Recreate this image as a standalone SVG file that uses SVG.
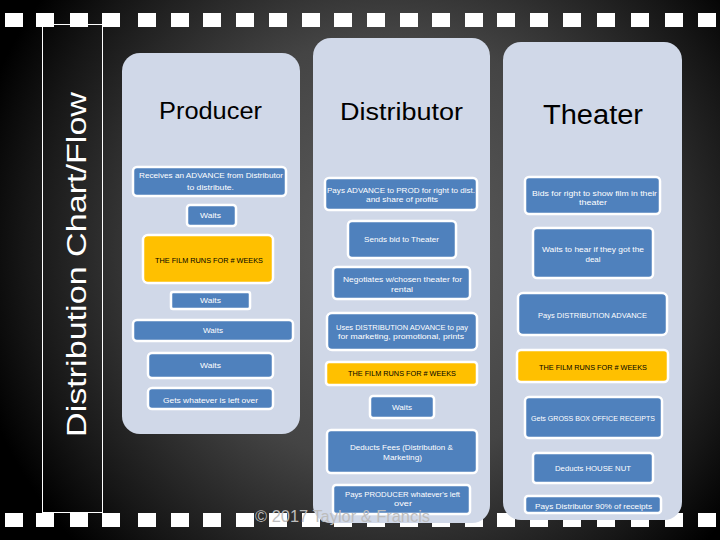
<svg xmlns="http://www.w3.org/2000/svg" width="720" height="540" viewBox="0 0 720 540">
<defs>
<radialGradient id="bg" cx="390" cy="250" r="430" gradientUnits="userSpaceOnUse">
<stop offset="0" stop-color="#5e5e5e"/>
<stop offset="0.5" stop-color="#444"/>
<stop offset="0.85" stop-color="#161616"/>
<stop offset="1" stop-color="#000"/>
</radialGradient>
</defs>
<style>
.hole{fill:#fff}
.col{fill:#D0D8E8}
.box{fill:#4F81BD;stroke:#fff;stroke-width:2.5}
.yel{fill:#FFC000;stroke:#fff;stroke-width:2.5}
.t{font-family:"Liberation Sans",Arial,sans-serif;font-size:7.5px;fill:#fff;text-anchor:middle}
.tk{font-family:"Liberation Sans",Arial,sans-serif;font-size:7.5px;fill:#000;text-anchor:middle}
.title{font-family:"Liberation Sans",Arial,sans-serif;fill:#000;text-anchor:middle}
</style>
<rect x="0" y="0" width="720" height="540" fill="url(#bg)"/>
<g id="holes">
<rect class="hole" x="5" y="13" width="18" height="14"/><rect class="hole" x="36" y="13" width="18" height="14"/><rect class="hole" x="70" y="13" width="18" height="14"/><rect class="hole" x="102" y="13" width="18" height="14"/><rect class="hole" x="138" y="13" width="18" height="14"/><rect class="hole" x="171" y="13" width="18" height="14"/><rect class="hole" x="203" y="13" width="18" height="14"/><rect class="hole" x="236" y="13" width="18" height="14"/><rect class="hole" x="269" y="13" width="18" height="14"/><rect class="hole" x="302" y="13" width="18" height="14"/><rect class="hole" x="334" y="13" width="18" height="14"/><rect class="hole" x="367" y="13" width="18" height="14"/><rect class="hole" x="400" y="13" width="18" height="14"/><rect class="hole" x="432" y="13" width="18" height="14"/><rect class="hole" x="465" y="13" width="18" height="14"/><rect class="hole" x="497" y="13" width="18" height="14"/><rect class="hole" x="530" y="13" width="18" height="14"/><rect class="hole" x="563" y="13" width="18" height="14"/><rect class="hole" x="597" y="13" width="18" height="14"/><rect class="hole" x="631" y="13" width="18" height="14"/><rect class="hole" x="665" y="13" width="18" height="14"/><rect class="hole" x="698" y="13" width="18" height="14"/>
<rect class="hole" x="5" y="513" width="18" height="14"/><rect class="hole" x="36" y="513" width="18" height="14"/><rect class="hole" x="70" y="513" width="18" height="14"/><rect class="hole" x="102" y="513" width="18" height="14"/><rect class="hole" x="138" y="513" width="18" height="14"/><rect class="hole" x="171" y="513" width="18" height="14"/><rect class="hole" x="203" y="513" width="18" height="14"/><rect class="hole" x="236" y="513" width="18" height="14"/><rect class="hole" x="269" y="513" width="18" height="14"/><rect class="hole" x="302" y="513" width="18" height="14"/><rect class="hole" x="334" y="513" width="18" height="14"/><rect class="hole" x="367" y="513" width="18" height="14"/><rect class="hole" x="400" y="513" width="18" height="14"/><rect class="hole" x="432" y="513" width="18" height="14"/><rect class="hole" x="465" y="513" width="18" height="14"/><rect class="hole" x="497" y="513" width="18" height="14"/><rect class="hole" x="530" y="513" width="18" height="14"/><rect class="hole" x="563" y="513" width="18" height="14"/><rect class="hole" x="597" y="513" width="18" height="14"/><rect class="hole" x="631" y="513" width="18" height="14"/><rect class="hole" x="665" y="513" width="18" height="14"/><rect class="hole" x="698" y="513" width="18" height="14"/>
</g>
<g id="sidebar">
<rect x="42.5" y="24.5" width="60" height="488" fill="none" stroke="#fff" stroke-width="1"/>
<text transform="translate(86,264.5) rotate(-90)" font-family="Liberation Sans, Arial, sans-serif" font-size="27" fill="#fff" text-anchor="middle" textLength="345" lengthAdjust="spacingAndGlyphs">Distribution Chart/Flow</text>
</g>
<g id="producer">
<rect class="col" x="122" y="53" width="178" height="381" rx="18"/>
<text class="title" x="210.5" y="119" font-size="23" textLength="103" lengthAdjust="spacingAndGlyphs">Producer</text>
</g>
<g id="distributor">
<rect class="col" x="313" y="38" width="177" height="485" rx="18"/>
<text class="title" x="401.5" y="120" font-size="23" textLength="123" lengthAdjust="spacingAndGlyphs">Distributor</text>
</g>
<g id="theater">
<rect class="col" x="503" y="42" width="179" height="478" rx="18"/>
<text class="title" x="593" y="124" font-size="27" textLength="100" lengthAdjust="spacingAndGlyphs">Theater</text>
</g>
<g id="p1"><rect class="box" x="133" y="167" width="153" height="29" rx="4"/><text class="t" x="211" y="178" textLength="144" lengthAdjust="spacingAndGlyphs">Receives an ADVANCE from Distributor</text><text class="t" x="210.5" y="190" textLength="47" lengthAdjust="spacingAndGlyphs">to distribute.</text></g>
<g id="p2"><rect class="box" x="187" y="205" width="49" height="21" rx="3"/><text class="t" x="210.5" y="218" textLength="21" lengthAdjust="spacingAndGlyphs">Waits</text></g>
<g id="p3"><rect class="yel" x="143" y="235" width="130" height="48" rx="5"/><text class="tk" x="209" y="263" textLength="108" lengthAdjust="spacingAndGlyphs">THE FILM RUNS FOR # WEEKS</text></g>
<g id="p4"><rect class="box" x="171" y="292" width="79" height="17" rx="2"/><text class="t" x="210.5" y="303" textLength="21" lengthAdjust="spacingAndGlyphs">Waits</text></g>
<g id="p5"><rect class="box" x="133" y="320" width="160" height="21" rx="4"/><text class="t" x="213" y="333" textLength="20" lengthAdjust="spacingAndGlyphs">Waits</text></g>
<g id="p6"><rect class="box" x="148" y="353" width="125" height="25" rx="4"/><text class="t" x="210.5" y="368" textLength="21" lengthAdjust="spacingAndGlyphs">Waits</text></g>
<g id="p7"><rect class="box" x="148" y="388" width="125" height="21" rx="4"/><text class="t" x="210.5" y="403" textLength="95" lengthAdjust="spacingAndGlyphs">Gets whatever is left over</text></g>
<g id="d1"><rect class="box" x="325" y="178" width="152" height="32" rx="4"/><text class="t" x="401" y="193" textLength="148" lengthAdjust="spacingAndGlyphs">Pays ADVANCE to PROD for right to dist.</text><text class="t" x="402" y="202" textLength="72" lengthAdjust="spacingAndGlyphs">and share of profits</text></g>
<g id="d2"><rect class="box" x="348" y="221" width="108" height="37" rx="4"/><text class="t" x="401.5" y="242" textLength="75" lengthAdjust="spacingAndGlyphs">Sends bid to Theater</text></g>
<g id="d3"><rect class="box" x="333" y="267" width="137" height="32" rx="4"/><text class="t" x="402.5" y="282" textLength="119" lengthAdjust="spacingAndGlyphs">Negotiates w/chosen theater for</text><text class="t" x="402" y="292" textLength="22" lengthAdjust="spacingAndGlyphs">rental</text></g>
<g id="d4"><rect class="box" x="327" y="313" width="150" height="37" rx="5"/><text class="t" x="402" y="330" textLength="132" lengthAdjust="spacingAndGlyphs">Uses DISTRIBUTION ADVANCE to pay</text><text class="t" x="401" y="339" textLength="126" lengthAdjust="spacingAndGlyphs">for marketing, promotional, prints</text></g>
<g id="d5"><rect class="yel" x="326" y="362" width="151" height="23" rx="3"/><text class="tk" x="402" y="376" textLength="108" lengthAdjust="spacingAndGlyphs">THE FILM RUNS FOR # WEEKS</text></g>
<g id="d6"><rect class="box" x="370" y="396" width="64" height="22" rx="3"/><text class="t" x="402" y="410" textLength="20" lengthAdjust="spacingAndGlyphs">Waits</text></g>
<g id="d7"><rect class="box" x="327" y="430" width="150" height="43" rx="4"/><text class="t" x="401.5" y="450" textLength="103" lengthAdjust="spacingAndGlyphs">Deducts Fees (Distribution &amp;</text><text class="t" x="402.5" y="460" textLength="39" lengthAdjust="spacingAndGlyphs">Marketing)</text></g>
<g id="d8"><rect class="box" x="333" y="485" width="137" height="29" rx="3"/><text class="t" x="402.5" y="497" textLength="115" lengthAdjust="spacingAndGlyphs">Pays PRODUCER whatever's left</text><text class="t" x="403" y="506" textLength="18" lengthAdjust="spacingAndGlyphs">over</text></g>
<g id="t1"><rect class="box" x="525" y="177" width="135" height="37" rx="4"/><text class="t" x="594.5" y="196" textLength="125" lengthAdjust="spacingAndGlyphs">Bids for right to show film in their</text><text class="t" x="593" y="205" textLength="28" lengthAdjust="spacingAndGlyphs">theater</text></g>
<g id="t2"><rect class="box" x="533" y="228" width="120" height="50" rx="4"/><text class="t" x="593" y="252" textLength="102" lengthAdjust="spacingAndGlyphs">Waits to hear if they got the</text><text class="t" x="593" y="262" textLength="15" lengthAdjust="spacingAndGlyphs">deal</text></g>
<g id="t3"><rect class="box" x="518" y="293" width="149" height="42" rx="5"/><text class="t" x="592.5" y="318" textLength="109" lengthAdjust="spacingAndGlyphs">Pays DISTRIBUTION ADVANCE</text></g>
<g id="t4"><rect class="yel" x="517" y="350" width="151" height="32" rx="4"/><text class="tk" x="593" y="370" textLength="108" lengthAdjust="spacingAndGlyphs">THE FILM RUNS FOR # WEEKS</text></g>
<g id="t5"><rect class="box" x="525" y="397" width="137" height="41" rx="4"/><text class="t" x="593" y="421" textLength="124" lengthAdjust="spacingAndGlyphs">Gets GROSS BOX OFFICE RECEIPTS</text></g>
<g id="t6"><rect class="box" x="533" y="453" width="120" height="30" rx="3"/><text class="t" x="593" y="471" textLength="76" lengthAdjust="spacingAndGlyphs">Deducts HOUSE NUT</text></g>
<g id="t7"><rect class="box" x="525" y="496" width="136" height="17" rx="3"/><text class="t" x="593.5" y="509" textLength="117" lengthAdjust="spacingAndGlyphs">Pays Distributor 90% of receipts</text></g>
<text x="342.5" y="522" font-family="Liberation Sans, Arial, sans-serif" font-size="16" fill="#bdbdbd" text-anchor="middle" textLength="175" lengthAdjust="spacingAndGlyphs">© 2017 Taylor &amp; Francis</text>
</svg>
